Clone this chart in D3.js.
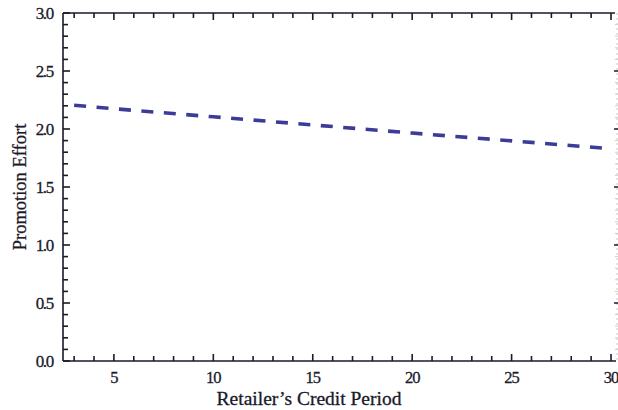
<!DOCTYPE html>
<html>
<head>
<meta charset="utf-8">
<script src="https://cdn.jsdelivr.net/npm/d3@7"></script>
<style>
  html, body { margin: 0; padding: 0; background: #fff; }
  svg { display: block; }
</style>
</head>
<body>
<div id="chart"></div>
<script>
(function () {
  'use strict';

  /* ---------- Data ---------- */
  const creditPeriod = [3, 5, 10, 15, 20, 25, 30];
  const promotionEffort = [2.205, 2.175, 2.105, 2.035, 1.965, 1.898, 1.83];
  const xTicks = [5, 10, 15, 20, 25, 30];
  const yTicks = [0, 0.5, 1.0, 1.5, 2.0, 2.5, 3.0];

  /* ---------- Size ---------- */
  const W = 618, H = 410;
  const left = 63, right = 615, top = 13, bottom = 361;

  const svg = d3.select('#chart').append('svg')
    .attr('width', W).attr('height', H);

  const x = d3.scaleLinear().domain([2.44, 30.2]).range([left, right]);
  const y = d3.scaleLinear().domain([0, 3]).range([bottom, top]);

  const ink = '#1a1a2a';
  const font = "'Liberation Serif', 'Times New Roman', serif";

  /* ---------- Frame ---------- */
  const majorX = xTicks;
  const minorX = d3.range(3, 31).filter(v => v % 5 !== 0);
  const majorY = yTicks;
  const minorY = d3.range(1, 30).map(v => v / 10).filter(v => Math.round(v * 10) % 5 !== 0);

  const frame = svg.append('g').attr('stroke', ink).attr('stroke-width', 1.6);

  // bottom + top axes with inward ticks
  frame.append('line').attr('x1', left).attr('x2', right + 1).attr('y1', bottom).attr('y2', bottom);
  frame.append('line').attr('x1', left).attr('x2', right).attr('y1', top).attr('y2', top);
  frame.append('line').attr('x1', left).attr('x2', left).attr('y1', top).attr('y2', bottom);

  [[majorX, 7], [minorX, 5]].forEach(([vals, len]) => {
    frame.selectAll(null).data(vals).join('line')
      .attr('x1', d => x(d)).attr('x2', d => x(d))
      .attr('y1', bottom).attr('y2', bottom - len);
    frame.selectAll(null).data(vals).join('line')
      .attr('x1', d => x(d)).attr('x2', d => x(d))
      .attr('y1', top).attr('y2', top + len);
  });

  [[majorY, 7], [minorY, 5]].forEach(([vals, len]) => {
    frame.selectAll(null).data(vals).join('line')
      .attr('x1', left).attr('x2', left + len)
      .attr('y1', d => y(d)).attr('y2', d => y(d));
  });

  // right side, mostly faded
  svg.append('line')
    .attr('x1', right + 2).attr('x2', right + 2).attr('y1', top).attr('y2', bottom)
    .attr('stroke', '#c8c8c8').attr('stroke-width', 1).attr('stroke-dasharray', '2,3');
  svg.selectAll(null).data(majorY.slice(1, -1)).join('line')
    .attr('x1', right - 1).attr('x2', right + 3)
    .attr('y1', d => y(d)).attr('y2', d => y(d))
    .attr('stroke', ink).attr('stroke-width', 1.5);
  svg.selectAll(null).data(minorY).join('line')
    .attr('x1', right).attr('x2', right + 3)
    .attr('y1', d => y(d)).attr('y2', d => y(d))
    .attr('stroke', '#d0d0d0').attr('stroke-width', 1);

  /* ---------- Tick labels ---------- */
  const textStyle = sel => sel
    .attr('font-family', font).attr('fill', ink)
    .attr('stroke', ink).attr('stroke-width', 0.3);

  svg.append('g').selectAll('text').data(xTicks).join('text')
    .attr('x', d => x(d)).attr('y', bottom + 22)
    .attr('text-anchor', 'middle')
    .attr('font-size', 16.5)
    .attr('letter-spacing', -1)
    .call(textStyle)
    .text(d => d);

  svg.append('g').selectAll('text').data(yTicks).join('text')
    .attr('x', 53).attr('y', d => y(d) + 5.5)
    .attr('text-anchor', 'end')
    .attr('font-size', 17)
    .attr('letter-spacing', -1.3)
    .call(textStyle)
    .text(d => d.toFixed(1));

  /* ---------- Axis titles ---------- */
  svg.append('text')
    .attr('x', 309).attr('y', 405)
    .attr('text-anchor', 'middle')
    .attr('font-size', 19.5)
    .call(textStyle)
    .text('Retailer’s Credit Period');

  svg.append('text')
    .attr('transform', 'translate(26,' + ((top + bottom) / 2) + ') rotate(-90)')
    .attr('text-anchor', 'middle')
    .attr('font-size', 18.5)
    .call(textStyle)
    .text('Promotion Effort');

  /* ---------- Series ---------- */
  const line = d3.line()
    .x((d, i) => x(creditPeriod[i]))
    .y(d => y(d));

  svg.append('path')
    .datum(promotionEffort)
    .attr('d', line)
    .attr('fill', 'none')
    .attr('stroke', '#3c3c98')
    .attr('stroke-width', 3.6)
    .attr('stroke-dasharray', '12,10.5');
})();
</script>
</body>
</html>
